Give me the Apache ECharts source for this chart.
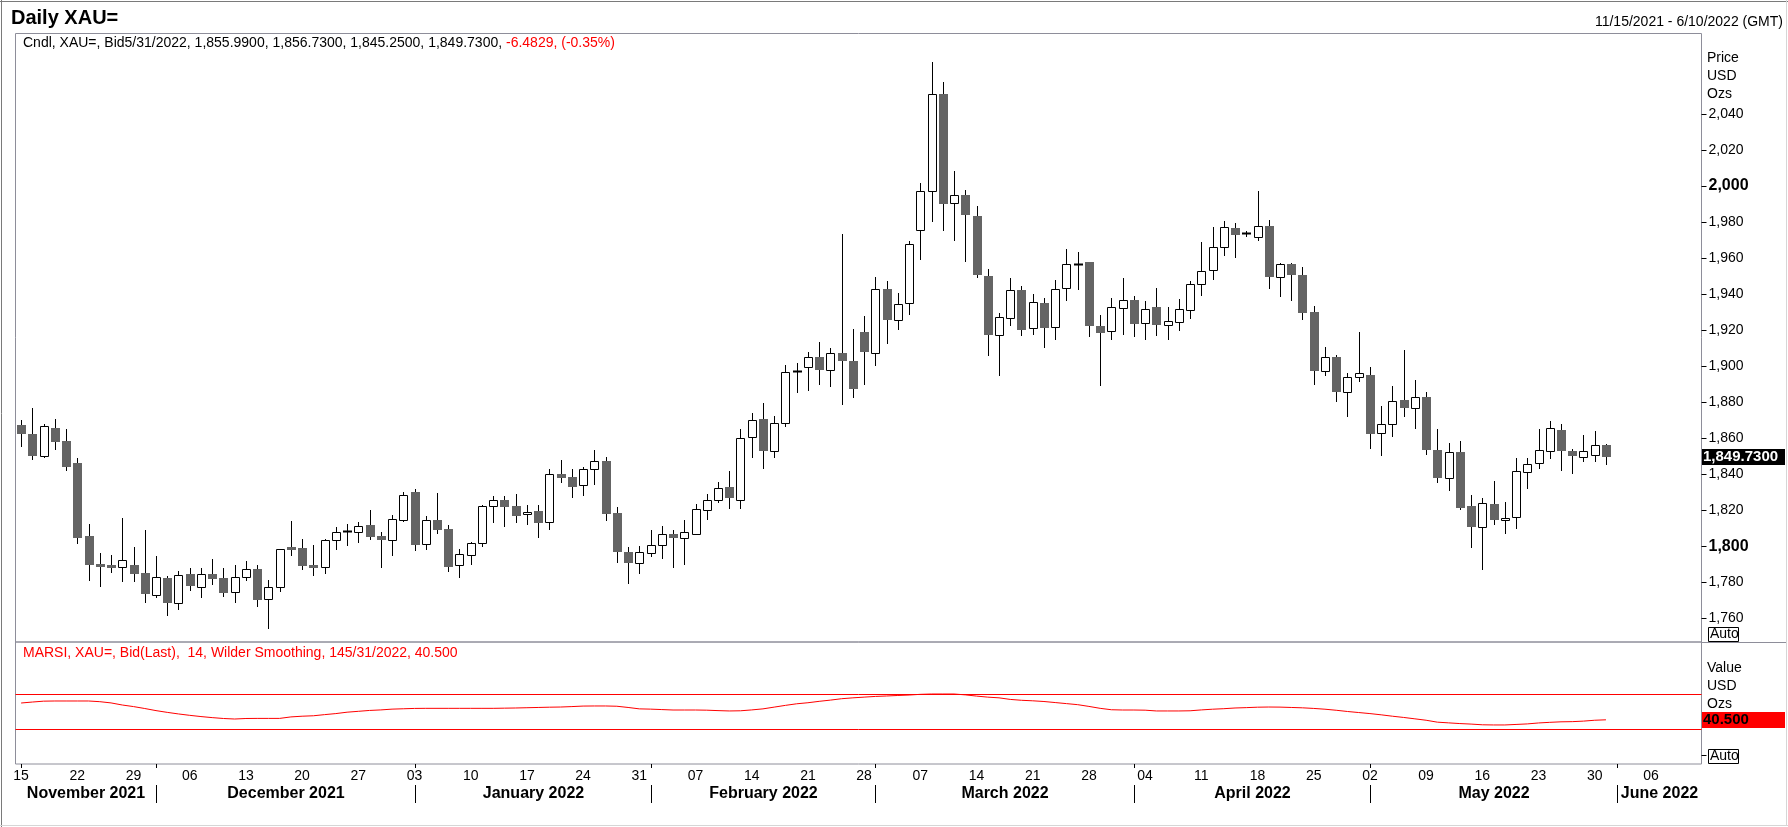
<!DOCTYPE html>
<html>
<head>
<meta charset="utf-8">
<script src="https://cdn.jsdelivr.net/npm/echarts@6/dist/echarts.min.js"></script>
<style>
html,body{margin:0;padding:0;background:#fff;}
#c{width:1788px;height:827px;}
</style>
</head>
<body>
<div id="c"></div>
<script>
// ---------- DATA ----------
var novDays = [15,16,17,18,19,22,23,24,25,26,29,30];
var decDays = [1,2,3,6,7,8,9,10,13,14,15,16,17,20,21,22,23,24,27,28,29,30,31];
var janDays = [3,4,5,6,7,10,11,12,13,14,17,18,19,20,21,24,25,26,27,28,31];
var febDays = [1,2,3,4,7,8,9,10,11,14,15,16,17,18,21,22,23,24,25,28];
var marDays = [1,2,3,4,7,8,9,10,11,14,15,16,17,18,21,22,23,24,25,28,29,30,31];
var aprDays = [1,4,5,6,7,8,11,12,13,14,15,18,19,20,21,22,25,26,27,28,29];
var mayDays = [2,3,4,5,6,9,10,11,12,13,16,17,18,19,20,23,24,25,26,27,30,31];
var junDays = [1,2,3,6,7,8,9,10];

var mondays = ['2021-11-15','2021-11-22','2021-11-29','2021-12-06','2021-12-13','2021-12-20','2021-12-27',
  '2022-01-03','2022-01-10','2022-01-17','2022-01-24','2022-01-31','2022-02-07','2022-02-14','2022-02-21','2022-02-28',
  '2022-03-07','2022-03-14','2022-03-21','2022-03-28','2022-04-04','2022-04-11','2022-04-18','2022-04-25',
  '2022-05-02','2022-05-09','2022-05-16','2022-05-23','2022-05-30','2022-06-06'];

var monthNames = ['November 2021','December 2021','January 2022','February 2022','March 2022','April 2022','May 2022','June 2022'];

var opens = [1867.2,1862.4,1849.8,1865.7,1858.5,1846.3,1805.7,1790.1,1789.6,1788.3,
1789.6,1785.1,1773.1,1782.4,1768.7,1784.6,1777.2,1784.6,1782.4,1774.8,
1782.7,1787.4,1770.5,1777.2,1799.4,1798.8,1789.6,1788.7,1803.3,1808.0,
1807.7,1811.8,1805.7,1803.7,1814.6,1830.1,1801.1,1814.5,1809.6,1789.4,
1795.0,1801.6,1822.2,1825.5,1822.4,1817.8,1819.6,1813.3,1840.0,1838.3,
1833.9,1842.8,1847.2,1818.3,1796.6,1790.5,1796.1,1800.7,1806.6,1804.4,
1806.6,1820.0,1825.5,1832.8,1825.9,1860.5,1870.7,1852.6,1868.3,1897.5,
1899.4,1905.0,1897.8,1907.2,1902.8,1918.9,1907.2,1942.7,1925.3,1935.0,
1975.3,1997.2,2051.1,1990.3,1995.1,1983.5,1950.1,1917.0,1926.6,1942.4,
1921.1,1935.0,1921.6,1943.3,1956.4,1957.9,1922.4,1919.2,1932.2,1936.8,
1923.8,1932.9,1922.7,1924.4,1931.1,1945.5,1953.3,1966.1,1976.6,1973.6,
1971.6,1977.7,1949.4,1956.7,1950.7,1930.2,1897.0,1905.0,1885.4,1893.9,
1895.0,1862.8,1867.8,1881.3,1876.6,1882.8,1853.5,1838.1,1852.2,1822.4,
1810.9,1823.5,1814.4,1816.1,1841.1,1846.1,1853.1,1864.6,1852.8,1849.4,
1850.5,1855.99];

var highs = [1870.1,1876.6,1867.9,1870.7,1865.1,1849.0,1812.4,1796.1,1795.1,1815.7,
1799.6,1808.7,1794.6,1783.3,1786.3,1787.9,1787.9,1792.9,1787.9,1789.4,
1791.8,1789.4,1781.1,1798.7,1813.8,1804.0,1800.5,1804.0,1810.5,1812.4,
1813.5,1820.1,1807.9,1817.2,1830.0,1831.8,1816.6,1829.6,1811.8,1798.5,
1802.4,1822.9,1827.8,1827.8,1829.1,1822.9,1822.9,1842.9,1847.9,1842.9,
1843.9,1853.5,1849.4,1821.6,1799.4,1800.0,1808.9,1811.1,1808.9,1814.6,
1823.3,1828.9,1835.7,1841.6,1865.2,1873.9,1879.4,1872.4,1900.7,1901.8,
1907.9,1913.5,1910.0,1973.3,1920.5,1927.9,1949.4,1947.4,1940.7,1969.6,
2001.8,2068.8,2057.7,2008.5,1997.9,1989.0,1953.8,1929.4,1949.0,1944.4,
1940.1,1937.9,1947.9,1965.0,1963.5,1957.9,1928.5,1937.7,1948.8,1938.8,
1936.3,1943.5,1932.9,1937.4,1947.4,1968.7,1977.4,1980.5,1979.6,1974.8,
1997.2,1981.1,1957.2,1957.2,1955.2,1933.5,1910.7,1906.1,1896.3,1919.1,
1899.6,1877.9,1889.1,1909.1,1892.4,1885.4,1865.2,1857.2,1858.3,1828.3,
1826.6,1836.3,1824.6,1849.1,1849.1,1865.2,1869.6,1867.8,1854.1,1861.6,
1863.9,1856.73];

var lows = [1854.8,1847.9,1848.7,1853.5,1842.0,1801.4,1780.9,1777.6,1785.3,1780.3,
1780.3,1768.7,1771.4,1761.4,1764.6,1775.3,1771.4,1778.5,1772.0,1768.7,
1780.9,1766.1,1753.8,1774.8,1794.8,1787.0,1783.7,1784.6,1797.9,1800.3,
1802.0,1803.5,1787.9,1794.8,1813.5,1797.2,1797.7,1807.0,1785.4,1782.2,
1789.8,1799.8,1813.1,1810.9,1813.1,1812.0,1804.8,1809.2,1834.8,1827.0,
1828.1,1833.7,1814.2,1790.4,1779.2,1784.4,1794.2,1793.1,1787.8,1789.8,
1806.6,1814.4,1823.7,1820.5,1820.5,1849.2,1843.1,1849.2,1865.9,1884.8,
1885.9,1889.6,1888.1,1878.1,1882.0,1889.2,1899.8,1912.4,1920.1,1928.5,
1959.0,1979.8,1974.8,1969.2,1957.6,1948.7,1905.3,1894.2,1922.4,1916.4,
1917.0,1909.8,1914.2,1935.9,1942.4,1916.1,1888.7,1914.2,1917.4,1915.9,
1914.6,1916.4,1914.2,1919.2,1926.1,1938.7,1947.9,1960.9,1959.8,1971.4,
1969.2,1942.7,1938.3,1935.9,1925.4,1889.6,1894.2,1880.2,1871.5,1890.9,
1854.2,1849.8,1860.5,1871.5,1864.8,1850.7,1834.8,1830.9,1820.2,1798.9,
1786.5,1812.0,1807.0,1809.8,1831.8,1843.1,1848.3,1842.0,1840.2,1847.0,
1847.0,1845.25];

var closes = [1862.0,1849.8,1866.6,1858.1,1844.2,1804.8,1789.8,1788.7,1788.1,1792.4,
1784.8,1773.7,1782.7,1768.7,1783.8,1778.1,1784.4,1782.0,1774.2,1782.7,
1787.2,1770.3,1777.2,1798.7,1797.6,1789.2,1788.1,1803.3,1807.7,1808.2,
1811.1,1805.1,1803.7,1815.0,1828.5,1800.9,1814.4,1809.2,1788.7,1795.5,
1801.6,1822.2,1825.5,1822.0,1817.0,1818.9,1813.1,1840.0,1838.1,1833.1,
1842.8,1847.2,1818.1,1796.5,1790.9,1796.5,1800.4,1806.5,1804.4,1807.8,
1820.5,1825.4,1832.2,1826.5,1860.0,1870.0,1852.6,1868.3,1896.6,1897.0,
1904.8,1897.6,1907.2,1902.6,1887.0,1907.6,1942.7,1925.3,1934.2,1967.7,
1997.2,2051.1,1990.1,1994.8,1984.0,1950.3,1917.0,1927.2,1942.2,1920.1,
1935.5,1920.9,1942.7,1956.6,1956.8,1922.4,1918.5,1932.7,1936.6,1923.5,
1931.6,1922.9,1925.0,1931.6,1945.5,1952.7,1966.1,1977.2,1972.6,1973.8,
1977.6,1949.2,1956.6,1950.8,1929.2,1897.0,1905.0,1885.4,1893.9,1895.9,
1862.4,1867.8,1880.5,1876.5,1882.8,1853.5,1838.1,1852.0,1821.3,1810.9,
1823.9,1814.4,1815.5,1841.6,1845.5,1853.3,1865.5,1852.6,1850.0,1852.8,
1856.1,1849.73];

var rsi = [59.7,60.8,61.8,62.0,62.0,62.0,62.0,61.2,59.8,57.4,
55.6,53.4,51.0,49.0,47.2,45.6,44.2,43.0,42.0,41.4,
42.0,42.1,42.1,42.1,43.8,44.6,45.1,46.4,47.6,49.2,
50.2,51.2,51.8,52.7,53.1,53.5,53.6,53.6,53.6,53.6,
53.6,53.6,53.6,53.8,54.0,54.3,54.6,54.9,55.1,55.6,
56.2,56.3,56.3,56.0,54.6,53.0,52.7,52.2,51.7,51.7,
51.7,51.5,51.0,50.6,50.8,51.8,53.0,55.0,57.0,58.8,
60.0,61.6,63.0,64.6,65.6,66.4,67.2,67.7,68.3,68.8,
69.6,70.0,70.0,70.0,69.0,67.6,66.4,65.6,63.8,62.8,
62.2,61.4,60.2,59.0,57.8,55.8,53.6,52.0,51.7,51.7,
51.5,50.6,50.6,50.6,50.8,51.8,52.6,53.2,54.0,54.4,
54.9,55.1,55.0,54.6,54.2,53.5,52.6,51.4,50.0,48.8,
47.6,46.2,44.6,43.2,41.6,40.0,37.8,37.0,36.2,35.6,
34.8,34.6,34.6,35.2,35.8,36.9,37.6,38.2,38.4,39.0,
40.0,40.5];

var priceTicks = [1760,1780,1800,1820,1840,1860,1880,1900,1920,1940,1960,1980,2000,2020,2040];
var boldTicks = [1800,2000];
var rsiLevels = [70,30];

// ---------- BUILD ----------
function pad(n){return (n<10?'0':'')+n;}
function mk(y,m,arr){return arr.map(function(d){return y+'-'+pad(m)+'-'+pad(d);});}
var cats = [].concat(mk(2021,11,novDays),mk(2021,12,decDays),mk(2022,1,janDays),mk(2022,2,febDays),
  mk(2022,3,marDays),mk(2022,4,aprDays),mk(2022,5,mayDays),mk(2022,6,junDays));
var mondaySet = {}; mondays.forEach(function(d){mondaySet[d]=true;});
var candleData = opens.map(function(o,i){return [i,o,closes[i],lows[i],highs[i]];});
var rsiData = rsi.map(function(v,i){return [i,v];});

var F = '"Liberation Sans", Arial, Helvetica, sans-serif';
function fmtNum(v,d){return v.toLocaleString('en-US',{minimumFractionDigits:d,maximumFractionDigits:d});}

var chart = echarts.init(document.getElementById('c'), null, {renderer:'canvas'});

function renderCandle(params, api){
  var i = api.value(0), o = api.value(1), c = api.value(2), l = api.value(3), h = api.value(4);
  var pO = api.coord([i,o]), pC = api.coord([i,c]), pL = api.coord([i,l]), pH = api.coord([i,h]);
  var x = Math.round(pO[0]);
  var w = 8;
  var yO = pO[1], yC = pC[1];
  var yTop = Math.round(Math.min(yO,yC)), yBot = Math.round(Math.max(yO,yC));
  var children = [{
    type:'line',
    shape:{x1:x+0.5,y1:Math.round(pH[1]),x2:x+0.5,y2:Math.round(pL[1])},
    style:{stroke:'#000',lineWidth:1}
  }];
  if (Math.abs(yO-yC) < 1.2) {
    children.push({type:'line',shape:{x1:x-4,y1:yTop+0.5,x2:x+5,y2:yTop+0.5},style:{stroke:'#000',lineWidth:2}});
  } else if (c >= o) {
    children.push({type:'rect',shape:{x:x-4+0.5,y:yTop+0.5,width:w,height:yBot-yTop},style:{fill:'#fff',stroke:'#000',lineWidth:1}});
  } else {
    children.push({type:'rect',shape:{x:x-4,y:yTop,width:w+1,height:Math.max(1,yBot-yTop)},style:{fill:'#646464'}});
  }
  return {type:'group',children:children};
}

var option = {
  animation:false,
  backgroundColor:'#fff',
  textStyle:{fontFamily:F},
  grid:[
    {left:15.5, top:33.5, width:1686, height:608.5, show:true, borderColor:'#8e8e9a', borderWidth:1, backgroundColor:'transparent'},
    {left:15.5, top:642, width:1686, height:122, show:true, borderColor:'#8e8e9a', borderWidth:1, backgroundColor:'transparent'}
  ],
  xAxis:[
    {type:'category', gridIndex:0, data:cats, boundaryGap:true, axisLine:{show:false}, axisTick:{show:false}, axisLabel:{show:false}, splitLine:{show:false}},
    {type:'category', gridIndex:1, data:cats, boundaryGap:true, axisLine:{show:false}, axisTick:{show:false}, splitLine:{show:false},
      axisLabel:{interval:function(idx,val){return !!mondaySet[val];}, formatter:function(v){return v.slice(8);},
        color:'#000', fontSize:14, fontFamily:F, margin:5}}
  ],
  yAxis:[
    {type:'value', gridIndex:0, position:'right', min:1746.8, max:2084.6, scale:true,
      axisLine:{show:false}, splitLine:{show:false},
      axisTick:{show:true, length:5, customValues:priceTicks, lineStyle:{color:'#000',width:1}},
      axisLabel:{customValues:priceTicks, margin:7, color:'#000', fontSize:14, fontFamily:F,
        formatter:function(v){var s=fmtNum(v,0); return boldTicks.indexOf(v)>=0 ? '{b|'+s+'}' : s;},
        rich:{b:{fontWeight:'bold',fontSize:16,color:'#000',fontFamily:F}}}},
    {type:'value', gridIndex:1, position:'right', min:-10, max:129.4,
      axisLine:{show:false}, splitLine:{show:false},
      axisTick:{show:true, length:5, customValues:[0], lineStyle:{color:'#000',width:1}},
      axisLabel:{show:false}}
  ],
  series:[
    {type:'custom', name:'XAU=', xAxisIndex:0, yAxisIndex:0, data:candleData, renderItem:renderCandle,
      encode:{x:0, y:[1,2,3,4]}, clip:true},
    {type:'line', name:'MARSI', xAxisIndex:1, yAxisIndex:1, data:rsiData, showSymbol:false, symbol:'none',
      lineStyle:{color:'#ff0000', width:1}, silent:true,
      markLine:{silent:true, symbol:'none', label:{show:false},
        lineStyle:{color:'#ff0000', type:'solid', width:1},
        data:rsiLevels.map(function(v){return {yAxis:v};})}}
  ]
};
chart.setOption(option);

// ---------- overlay texts & decorations ----------
var g = [];
function txt(t,x,y,opts){
  var st = {text:t, x:x, y:y, fill:(opts&&opts.fill)||'#000', font:(opts&&opts.font)||('14px '+F),
    textAlign:(opts&&opts.align)||'left', textVerticalAlign:'middle'};
  if (opts && opts.rich) st.rich = opts.rich;
  g.push({type:'text', silent:true, z:100, style:st});
}
function line(x1,y1,x2,y2,color,w){
  g.push({type:'line', silent:true, z:100, shape:{x1:x1,y1:y1,x2:x2,y2:y2}, style:{stroke:color||'#000', lineWidth:w||1}});
}
// outer frame
line(0,1.5,1788,1.5,'#7a7a7a',1);
line(1.5,0,1.5,827,'#7a7a7a',1);
line(1786.5,0,1786.5,826,'#d6d6d6',1);
line(0,825.5,1788,825.5,'#d6d6d6',1);
// separator extends to right
line(1701.5,642.5,1786,642.5,'#8e8e9a',1);

txt('Daily XAU=', 11, 18.5, {font:'bold 20px '+F});
txt('11/15/2021 - 6/10/2022 (GMT)', 1783, 22, {align:'right'});
txt('{k|Cndl, XAU=, Bid5/31/2022, 1,855.9900, 1,856.7300, 1,845.2500, 1,849.7300, }{r|-6.4829, (-0.35%)}', 23, 43,
  {rich:{k:{fill:'#000',font:'14px '+F}, r:{fill:'#ff0000',font:'14px '+F}}});
txt('MARSI, XAU=, Bid(Last),  14, Wilder Smoothing, 145/31/2022, 40.500', 23, 653.5, {fill:'#ff0000'});

txt('Price', 1707, 58.5); txt('USD', 1707, 76.5); txt('Ozs', 1707, 94.5);
txt('Value', 1707, 668.5); txt('USD', 1707, 686); txt('Ozs', 1707, 704);

function autoBox(yTop){
  g.push({type:'rect', silent:true, z:100, shape:{x:1708.5,y:yTop+0.5,width:30,height:14}, style:{fill:'#fff',stroke:'#000',lineWidth:1}});
  txt('Auto', 1710, yTop+7.5, {font:'14px '+F});
}
autoBox(627);
autoBox(749);

// last price box
var lastClose = closes[closes.length-1];
var py = chart.convertToPixel({yAxisIndex:0}, lastClose);
g.push({type:'rect', silent:true, z:100, shape:{x:1702,y:Math.round(py)-8,width:83,height:16}, style:{fill:'#000'}});
txt(fmtNum(lastClose,4), 1703, Math.round(py), {fill:'#fff', font:'bold 15px '+F});
// last RSI box
var lastRsi = rsi[rsi.length-1];
var ry = chart.convertToPixel({yAxisIndex:1}, lastRsi);
g.push({type:'rect', silent:true, z:100, shape:{x:1702,y:Math.round(ry)-8,width:83,height:16}, style:{fill:'#ff0000'}});
txt(fmtNum(lastRsi,3), 1703, Math.round(ry), {fill:'#000', font:'bold 15px '+F});

// month separators and labels
var gridLeft = 15.5, gridRight = 1701.5;
var seps = [];
for (var i=1;i<cats.length;i++){
  if (cats[i].slice(0,7) !== cats[i-1].slice(0,7)) seps.push(Math.round(chart.convertToPixel({xAxisIndex:1}, cats[i]))+0.5);
}
var x0 = Math.round(chart.convertToPixel({xAxisIndex:1}, cats[0]))+0.5;
line(x0,764,x0,768,'#000',1);
seps.forEach(function(x){ line(x,764,x,768,'#000',1); line(x,785,x,803,'#000',1); });
var bounds = [gridLeft].concat(seps).concat([gridRight]);
for (var m=0;m<monthNames.length;m++){
  txt(monthNames[m], (bounds[m]+bounds[m+1])/2, 794, {align:'center', font:'bold 16px '+F});
}
chart.setOption({graphic:g});
</script>
</body>
</html>
